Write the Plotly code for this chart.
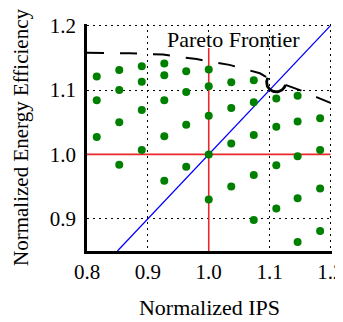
import numpy as np
import plotly.graph_objects as go

# --- data ---
ips = [0.816, 0.853, 0.890, 0.927, 0.927, 0.890, 0.963, 1.000, 1.000, 1.037, 1.074,
       0.816, 0.853, 0.927, 0.963, 0.890, 1.037, 1.074, 1.000, 1.111, 1.146, 1.183,
       0.853, 0.963, 1.111, 1.146, 0.816, 0.927, 1.074, 1.037, 0.890, 1.000, 1.183,
       1.146, 0.853, 0.963, 1.111, 1.074, 0.927, 1.037, 1.183, 1.146, 1.000, 1.111,
       1.074, 1.183, 1.146]
eff = [1.121, 1.131, 1.137, 1.141, 1.123, 1.113, 1.129, 1.132, 1.106, 1.112, 1.115,
       1.084, 1.100, 1.084, 1.097, 1.069, 1.072, 1.081, 1.060, 1.087, 1.091, 1.056,
       1.050, 1.046, 1.043, 1.051, 1.027, 1.028, 1.030, 1.017, 1.007, 1.000, 1.007,
       0.997, 0.984, 0.981, 0.983, 0.968, 0.959, 0.950, 0.947, 0.932, 0.930, 0.916,
       0.898, 0.881, 0.864]

front_left_x = [0.800, 0.870, 0.925, 0.980, 1.034, 1.084, 1.097]
front_left_y = [1.158, 1.157, 1.155, 1.148, 1.139, 1.126, 1.119]
front_right_x = [1.126, 1.152, 1.177, 1.200]
front_right_y = [1.108, 1.099, 1.089, 1.080]

x_ticks = [0.8, 0.9, 1.0, 1.1, 1.2]
y_ticks = [0.9, 1.0, 1.1, 1.2]
x_range = [0.8, 1.2025]
y_range = [0.85, 1.2025]

W, H = 335, 314
ML, MR, MT, MB = 79, 11, 16, 71
pw, ph = W - ML - MR, H - MT - MB
sx = pw / (x_range[1] - x_range[0])
sy = ph / (y_range[1] - y_range[0])

# hop arc over the gap in the frontier (circular arc bulging downward)
p1 = np.array([front_left_x[-1] * sx, front_left_y[-1] * sy])
p2 = np.array([front_right_x[0] * sx, front_right_y[0] * sy])
mid = (p1 + p2) / 2
half = np.linalg.norm(p2 - p1) / 2
u = (p2 - p1) / (2 * half)
down = np.array([u[1], -u[0]])
depth = 1.12 * half
R = (half ** 2 + depth ** 2) / (2 * depth)
cen = mid + down * (depth - R)
a1 = np.arctan2(p1[1] - cen[1], p1[0] - cen[0])
a2 = np.arctan2(p2[1] - cen[1], p2[0] - cen[0])
if a2 < a1:
    a2 += 2 * np.pi
t = np.linspace(a1, a2, 60)
arc_x = (cen[0] + R * np.cos(t)) / sx
arc_y = (cen[1] + R * np.sin(t)) / sy

FONT = "Liberation Serif"
fig = go.Figure()
fig.add_trace(go.Scatter(x=[1.0, 1.0], y=[y_range[0], 1.165], mode="lines",
                         line=dict(color="#e8282c", width=1.6), hoverinfo="skip"))
fig.add_trace(go.Scatter(x=[0.8, 1.2], y=[1.0, 1.0], mode="lines",
                         line=dict(color="#e8282c", width=1.6), hoverinfo="skip"))
fig.add_trace(go.Scatter(x=[0.85, 1.2], y=[0.85, 1.2], mode="lines",
                         line=dict(color="#0000ff", width=1.3), hoverinfo="skip"))
fig.add_trace(go.Scatter(x=ips, y=eff, mode="markers",
                         marker=dict(color="#008000", size=8)))
fig.add_trace(go.Scatter(x=front_left_x, y=front_left_y, mode="lines",
                         line=dict(color="black", width=2, dash="17px,16px")))
fig.add_trace(go.Scatter(x=front_right_x, y=front_right_y, mode="lines",
                         line=dict(color="black", width=2, dash="17px,16px")))
fig.add_trace(go.Scatter(x=arc_x, y=arc_y, mode="lines",
                         line=dict(color="black", width=2.8)))

fig.add_annotation(x=1.041, y=1.178, text="Pareto Frontier", showarrow=False,
                   font=dict(family=FONT, size=22, color="black"))

axis_common = dict(showgrid=True, gridcolor="black", gridwidth=1.2, griddash="2px,4px",
                   zeroline=False, showline=True, linecolor="black", linewidth=2.5,
                   automargin=False, ticklabeloverflow="allow",
                   tickfont=dict(family=FONT, size=21, color="black"))
fig.update_layout(
    width=W, height=H, showlegend=False,
    margin=dict(l=ML, r=MR, t=MT, b=MB),
    plot_bgcolor="white", paper_bgcolor="white",
    xaxis=dict(range=x_range, tickvals=x_ticks, ticktext=[f"{v:.1f}" for v in x_ticks],
               ticks="",
               title=dict(text="Normalized IPS", font=dict(family=FONT, size=22, color="black"),
                          standoff=17), **axis_common),
    yaxis=dict(range=y_range, tickvals=y_ticks, ticktext=[f"{v:.1f}" for v in y_ticks],
               ticks="outside", tickcolor="rgba(0,0,0,0)", ticklen=4,
               title=dict(text="Normalized Energy Efficiency",
                          font=dict(family=FONT, size=21, color="black"), standoff=16),
               **axis_common),
)
fig.write_html("out.html")
